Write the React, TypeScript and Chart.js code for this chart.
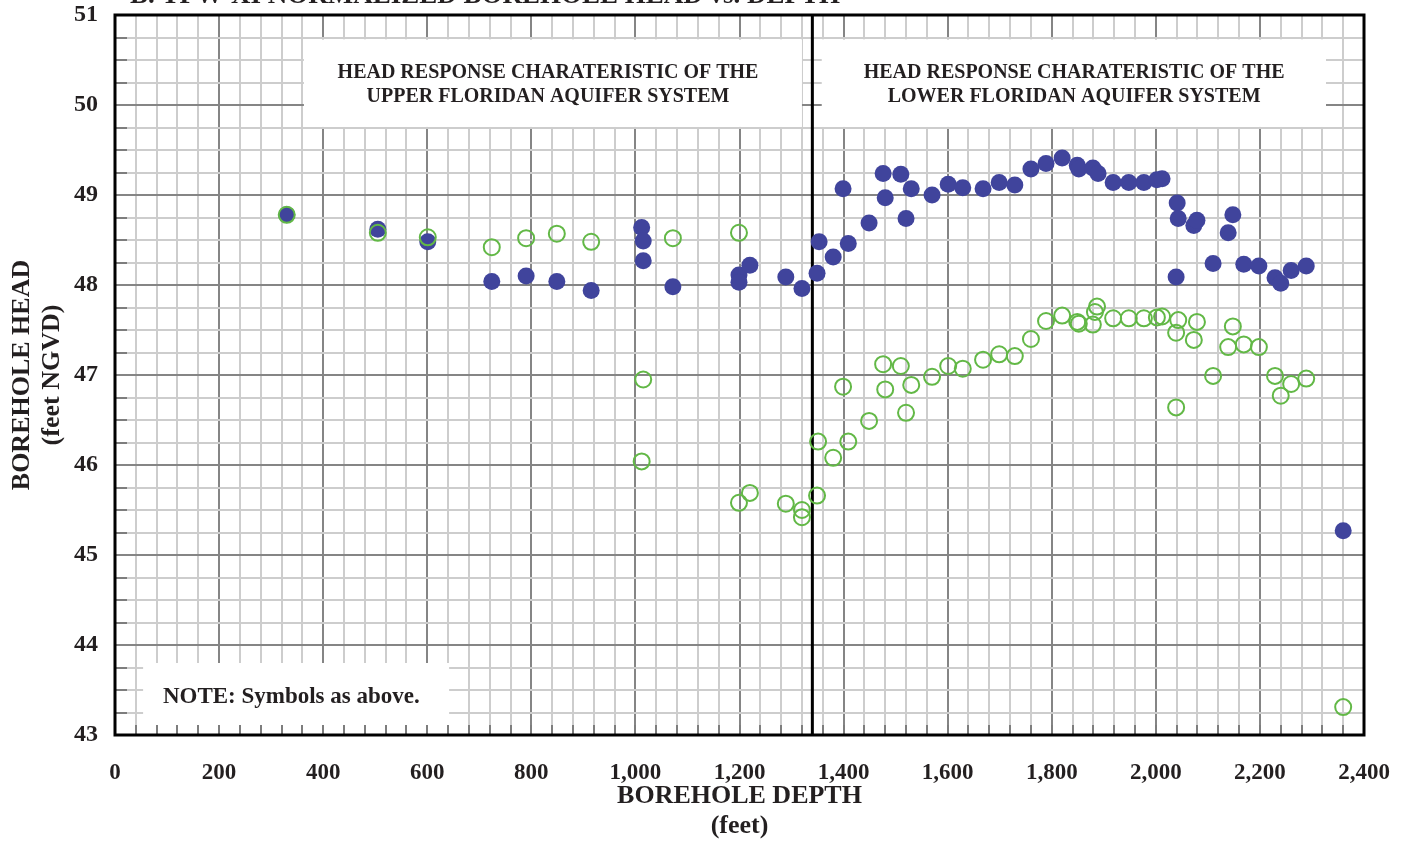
import React, { useEffect, useRef } from 'react';
import { Chart, registerables } from 'chart.js';

Chart.register(...registerables);

// ---------- data ----------
const blueDepth = [
  330, 505, 601, 724, 790, 849, 915, 1012, 1015, 1015, 1072, 1199, 1199, 1220, 1289, 1320,
  1349, 1353, 1380, 1399, 1409, 1449, 1476, 1480, 1510, 1520, 1530, 1570, 1601, 1629, 1668,
  1699, 1729, 1760, 1789, 1820, 1849, 1852, 1879, 1889, 1918, 1948, 1977, 2002, 2012, 2039,
  2041, 2043, 2073, 2079, 2110, 2139, 2148, 2169, 2198, 2229, 2240, 2260, 2289, 2360,
];
const blueHead = [
  48.78, 48.62, 48.48, 48.04, 48.1, 48.04, 47.94, 48.64, 48.49, 48.27, 47.98, 48.11, 48.03, 48.22, 48.09, 47.96,
  48.13, 48.48, 48.31, 49.07, 48.46, 48.69, 49.24, 48.97, 49.23, 48.74, 49.07, 49.0, 49.12, 49.08, 49.07,
  49.14, 49.11, 49.29, 49.35, 49.41, 49.33, 49.29, 49.3, 49.24, 49.14, 49.14, 49.14, 49.17, 49.18, 48.09,
  48.91, 48.74, 48.66, 48.72, 48.24, 48.58, 48.78, 48.23, 48.21, 48.08, 48.02, 48.16, 48.21, 45.27,
];
const greenDepth = [
  330, 505, 601, 724, 790, 849, 915, 1012, 1015, 1072, 1199, 1199, 1220, 1289, 1320, 1320,
  1349, 1351, 1380, 1399, 1409, 1449, 1476, 1480, 1510, 1520, 1530, 1570, 1601, 1629, 1668,
  1699, 1729, 1760, 1789, 1820, 1849, 1852, 1879, 1883, 1887, 1918, 1948, 1977, 2002, 2012,
  2039, 2039, 2043, 2073, 2079, 2110, 2139, 2148, 2169, 2198, 2229, 2240, 2260, 2289, 2360,
];
const greenHead = [
  48.78, 48.58, 48.53, 48.42, 48.52, 48.57, 48.48, 46.04, 46.95, 48.52, 48.58, 45.58, 45.69, 45.57, 45.5, 45.42,
  45.66, 46.26, 46.08, 46.87, 46.26, 46.49, 47.12, 46.84, 47.1, 46.58, 46.89, 46.98, 47.1, 47.07, 47.17,
  47.23, 47.21, 47.4, 47.6, 47.66, 47.59, 47.57, 47.56, 47.7, 47.76, 47.63, 47.63, 47.63, 47.64, 47.65,
  47.47, 46.64, 47.61, 47.39, 47.59, 46.99, 47.31, 47.54, 47.34, 47.31, 46.99, 46.77, 46.9, 46.96, 43.31,
];
const dividerDepth = 1340;

const xMin = 0;
const xMax = 2400;
const xStep = 40;
const xLabelEvery = 200;
const yMin = 43;
const yMax = 51;
const yStep = 0.25;

const chartTitle = 'B. TPW-XI NORMALIZED BOREHOLE HEAD vs. DEPTH';
const xTitle = ['BOREHOLE DEPTH', '(feet)'];
const yTitle = ['BOREHOLE HEAD', '(feet NGVD)'];
const upperText = ['HEAD RESPONSE CHARATERISTIC OF THE', 'UPPER FLORIDAN AQUIFER SYSTEM'];
const lowerText = ['HEAD RESPONSE CHARATERISTIC OF THE', 'LOWER FLORIDAN AQUIFER SYSTEM'];
const noteText = ['NOTE: Symbols as above.'];

// ---------- styling ----------
const FONT = "'Liberation Serif', 'Times New Roman', serif";
const TEXT = '#231f20';
const BLUE = '#40449c';
const GREEN = '#62b846';
const MAJOR = '#858585';
const MINOR = '#cdcdcd';

// annotation boxes in data coordinates
const boxes = [
  { x1: 363, x2: 1320, y1: 50.73, y2: 49.756, tx: 832, align: 'center', ty: [50.356, 50.089], lines: upperText, size: 20 },
  { x1: 1358, x2: 2327, y1: 50.73, y2: 49.756, tx: 1843, align: 'center', ty: [50.356, 50.089], lines: lowerText, size: 20 },
  { x1: 54, x2: 642, y1: 43.8, y2: 43.09, tx: 92, align: 'left', ty: [43.422], lines: noteText, size: 23 },
];

const overlayPlugin = {
  id: 'overlay',
  beforeDatasetsDraw(chart: any) {
    const { ctx, chartArea: ca, scales } = chart;
    const x = scales.x;
    const y = scales.y;
    ctx.save();
    for (const b of boxes) {
      const l = x.getPixelForValue(b.x1);
      const r = x.getPixelForValue(b.x2);
      const t = y.getPixelForValue(b.y1);
      const bo = y.getPixelForValue(b.y2);
      ctx.fillStyle = '#ffffff';
      ctx.fillRect(l, t, r - l, bo - t);
      ctx.fillStyle = TEXT;
      ctx.font = `bold ${b.size}px ${FONT}`;
      ctx.textAlign = b.align;
      ctx.textBaseline = 'middle';
      b.lines.forEach((s: string, i: number) => {
        ctx.fillText(s, x.getPixelForValue(b.tx), y.getPixelForValue(b.ty[i]));
      });
    }
    // inward tick marks
    ctx.strokeStyle = '#7d7d7d';
    ctx.lineWidth = 2;
    ctx.beginPath();
    y.ticks.forEach((t: any) => {
      if (t.value % 1 !== 0) {
        const py = Math.round(y.getPixelForValue(t.value));
        ctx.moveTo(ca.left, py);
        ctx.lineTo(ca.left + 12, py);
      }
    });
    x.ticks.forEach((t: any) => {
      const px = Math.round(x.getPixelForValue(t.value));
      ctx.moveTo(px, ca.bottom);
      ctx.lineTo(px, ca.bottom - 10);
    });
    ctx.stroke();
    ctx.restore();
  },
  afterDraw(chart: any) {
    const { ctx, chartArea: ca } = chart;
    ctx.save();
    ctx.strokeStyle = '#000000';
    ctx.lineWidth = 3;
    ctx.strokeRect(ca.left, ca.top, ca.right - ca.left, ca.bottom - ca.top);
    ctx.fillStyle = TEXT;
    ctx.font = `bold 27px ${FONT}`;
    ctx.textAlign = 'left';
    ctx.textBaseline = 'alphabetic';
    ctx.fillText(chartTitle, 130, 3);
    ctx.restore();
  },
};

export default function App() {
  const ref = useRef<HTMLCanvasElement | null>(null);

  useEffect(() => {
    if (!ref.current) return;
    const chart = new Chart(ref.current, {
      type: 'scatter',
      data: {
        datasets: [
          {
            label: 'Lower (open)',
            data: greenDepth.map((d, i) => ({ x: d, y: greenHead[i] })),
            backgroundColor: 'rgba(0,0,0,0)',
            borderColor: GREEN,
            borderWidth: 2,
            pointRadius: 8,
            order: 0,
          },
          {
            label: 'Upper (filled)',
            data: blueDepth.map((d, i) => ({ x: d, y: blueHead[i] })),
            backgroundColor: BLUE,
            borderColor: BLUE,
            borderWidth: 0,
            pointRadius: 8.5,
            order: 1,
          },
          {
            type: 'line',
            label: 'divider',
            data: [
              { x: dividerDepth, y: yMin },
              { x: dividerDepth, y: yMax },
            ],
            borderColor: '#000000',
            borderWidth: 3,
            pointRadius: 0,
            showLine: true,
            order: 2,
          } as any,
        ],
      },
      options: {
        responsive: false,
        animation: false,
        events: [],
        layout: { padding: { top: 15, right: 42, left: 0, bottom: 0 } },
        plugins: {
          legend: { display: false },
          tooltip: { enabled: false },
          title: { display: false },
        },
        scales: {
          x: {
            type: 'linear',
            min: xMin,
            max: xMax,
            border: { display: false },
            grid: {
              drawTicks: false,
              lineWidth: 2,
              color: (c: any) => (c.tick && c.tick.value % xLabelEvery === 0 ? MAJOR : MINOR),
            },
            ticks: {
              stepSize: xStep,
              autoSkip: false,
              maxRotation: 0,
              minRotation: 0,
              padding: 24,
              color: TEXT,
              font: { family: FONT, size: 23, weight: 'bold' },
              callback: (v: any) => (Number(v) % xLabelEvery === 0 ? Number(v).toLocaleString('en-US') : ''),
            },
            title: {
              display: true,
              text: xTitle,
              color: TEXT,
              font: { family: FONT, size: 26, weight: 'bold', lineHeight: 1.15 },
              padding: { top: 0, bottom: 0 },
            },
            afterFit: (s: any) => {
              s.height = 106;
              s.paddingLeft = 0;
              s.paddingRight = 0;
            },
          },
          y: {
            type: 'linear',
            min: yMin,
            max: yMax,
            border: { display: false },
            grid: {
              drawTicks: false,
              lineWidth: 2,
              color: (c: any) => (c.tick && c.tick.value % 1 === 0 ? MAJOR : MINOR),
            },
            ticks: {
              stepSize: yStep,
              maxTicksLimit: 100,
              autoSkip: false,
              padding: 17,
              color: TEXT,
              font: { family: FONT, size: 24, weight: 'bold' },
              callback: (v: any) => (Number(v) % 1 === 0 ? String(v) : ''),
            },
            title: {
              display: true,
              text: yTitle,
              color: TEXT,
              font: { family: FONT, size: 26, weight: 'bold', lineHeight: 1.15 },
              padding: { top: 7, bottom: 0 },
            },
            afterFit: (s: any) => {
              s.width = 115;
              s.paddingTop = 0;
              s.paddingBottom = 0;
            },
          },
        },
      } as any,
      plugins: [overlayPlugin as any],
    });
    return () => chart.destroy();
  }, []);

  return (
    <div style={{ position: 'absolute', left: 0, top: 0, width: 1406, height: 841, background: '#ffffff' }}>
      <canvas ref={ref} width={1406} height={841} style={{ display: 'block' }} />
    </div>
  );
}
